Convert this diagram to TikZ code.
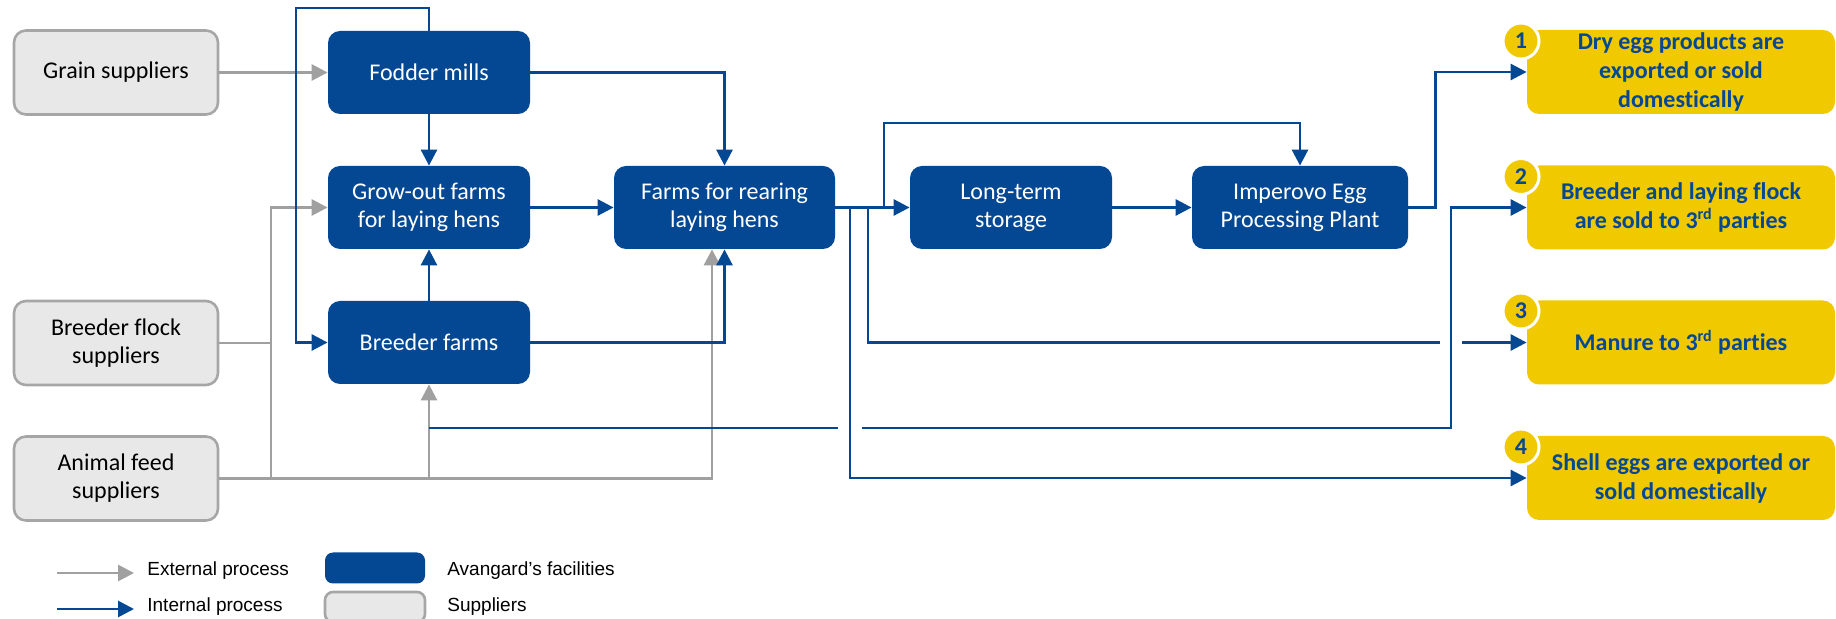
\documentclass[tikz,border=0pt]{standalone}
\usepackage{fontspec}
\setmainfont[Ligatures={TeX,NoCommon}]{Carlito}
\newfontfamily\legendfont{Liberation Sans}
\usetikzlibrary{arrows.meta}

\definecolor{avblue}{RGB}{4,72,148}
\definecolor{supfill}{RGB}{232,232,232}
\definecolor{supline}{RGB}{166,166,166}
\definecolor{extgray}{RGB}{160,160,160}
\definecolor{outyellow}{RGB}{240,201,0}

\tikzset{
  facility/.style={fill=avblue, rounded corners=6pt, minimum width=101pt, minimum height=41.5pt, inner sep=0pt, align=center, text=white, font=\fontsize{12}{14}\selectfont},
  supplier/.style={draw=supline, fill=supfill, line width=1.3pt, rounded corners=6pt, minimum width=102pt, minimum height=42pt, inner sep=0pt, align=center, font=\fontsize{12}{14}\selectfont},
  result/.style={fill=outyellow, rounded corners=6pt, minimum width=154pt, minimum height=42pt, inner sep=0pt, align=center, text=avblue, font=\bfseries\fontsize{12}{14.5}\selectfont},
  badge/.style={circle, fill=outyellow, draw=white, line width=1.5pt, minimum size=18pt, inner sep=0pt, text=avblue, font=\bfseries\fontsize{12}{14}\selectfont},
  legtext/.style={anchor=west, inner sep=0pt, font=\legendfont\fontsize{9.5}{11}\selectfont},
  extline/.style={draw=extgray, line width=1.4pt},
  extarr/.style={extline, -{Triangle[length=8pt,width=8pt]}},
  intline/.style={draw=avblue, line width=1.4pt},
  intarr/.style={intline, -{Triangle[length=8pt,width=8pt]}},
}

\begin{document}
\begin{tikzpicture}[x=0.5pt,y=0.5pt,yscale=-1,xscale=1]
\useasboundingbox (0,0) rectangle (1836,619);

%Shape: Rectangle - suppliers
\node[supplier] (grain) at (116,72.5) {Grain suppliers};
\node[supplier] (breedflock) at (116,343) {Breeder flock\\suppliers};
\node[supplier] (feed) at (116,478.5) {Animal feed\\suppliers};

%Shape: Rectangle - facilities
\node[facility] (fodder) at (429,72.5) {Fodder mills};
\node[facility] (growout) at (429,207.5) {Grow-out farms\\for laying hens};
\node[facility] (breedf) at (429,342.5) {Breeder farms};
\node[facility, minimum width=110.5pt] (rearing) at (724.5,207.5) {Farms for rearing\\laying hens};
\node[facility] (storage) at (1011,207.5) {Long-term\\storage};
\node[facility, minimum width=108pt] (plant) at (1300,207.5) {Imperovo Egg\\Processing Plant};

%Shape: Rectangle - results
\node[result] (out1) at (1681,72) {Dry egg products are\\exported or sold\\domestically};
\node[result] (out2) at (1681,207.5) {Breeder and laying flock\\are sold to 3\textsuperscript{rd} parties};
\node[result] (out3) at (1681,342.5) {Manure to 3\textsuperscript{rd} parties};
\node[result] (out4) at (1681,478) {Shell eggs are exported or\\sold domestically};

%Shape: Circle
\node[badge] (n1) at (1521,41) {1};
\node[badge] (n2) at (1521,176.5) {2};
\node[badge] (n3) at (1521,311) {3};
\node[badge] (n4) at (1521,447) {4};

%junctions
\coordinate (loop) at (296,8);
\coordinate (gtrunk) at (271,207.5);
\coordinate (d4) at (850,207.5);
\coordinate (d3) at (868,207.5);
\coordinate (br1) at (884,207.5);
\coordinate (topline) at (884,123);
\coordinate (flk) at (429,428);
\coordinate (gapa) at (838,428);
\coordinate (gapb) at (862,428);
\coordinate (rise) at (1451,428);
\coordinate (gapc) at (1440,342.5);
\coordinate (gapd) at (1462,342.5);

%Straight Lines - external
\draw[extarr] (grain) -- (fodder);
\draw[extarr] (feed.east -| gtrunk) |- (growout.west);
\draw[extline] (breedflock.east) -- (breedflock.east -| gtrunk);
\draw[extarr] (feed.east) -| ([xshift=-6.25pt]rearing.south);
\draw[extarr] (feed.east -| breedf.south) -- (breedf.south);

%Straight Lines - internal
\draw[intarr] (fodder.north) |- (loop) |- (breedf.west);
\draw[intarr] (fodder) -- (growout);
\draw[intarr] (breedf) -- (growout);
\draw[intarr] (fodder.east) -| (rearing.north);
\draw[intarr] (breedf.east) -| (rearing.south);
\draw[intarr] (growout) -- (rearing);
\draw[intarr] (rearing) -- (storage);
\draw[intarr] (storage) -- (plant);
\draw[intarr] (br1) -- (topline) -| (plant.north);
\draw[intarr] (plant.east) -- ++(27,0) |- (out1.west);
\draw[intline] (flk) -- (gapa);
\draw[intarr] (gapb) -- (rise) |- (out2.west);
\draw[intline] (d3) |- (gapc);
\draw[intarr] (gapd) -- (out3.west);
\draw[intarr] (d4) |- (out4.west);

% Legend
\node[legtext] (lgext) at (147,571) {External process};
\node[legtext] (lgint) at (147,607) {Internal process};
\draw[extarr] ([xshift=-45pt,yshift=1pt]lgext.west) -- ([xshift=-6.5pt,yshift=1pt]lgext.west);
\draw[intarr] ([xshift=-45pt,yshift=1pt]lgint.west) -- ([xshift=-6.5pt,yshift=1pt]lgint.west);
\node[facility, minimum width=50pt, minimum height=15.5pt, rounded corners=4pt] (lgfac) at (375,568) {};
\node[supplier, minimum width=50pt, minimum height=15pt, rounded corners=4pt] (lgsup) at (375,607) {};
\node[legtext] (lgfactext) at (447,571) {Avangard’s facilities};
\node[legtext] (lgsuptext) at (447,607) {Suppliers};
\end{tikzpicture}
\end{document}
